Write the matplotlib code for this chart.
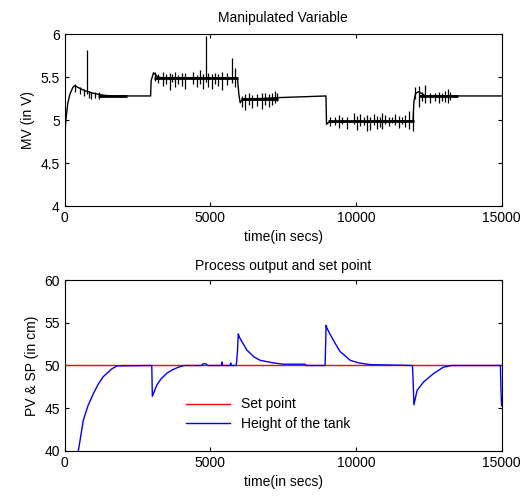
import numpy as np
import matplotlib
matplotlib.use('Agg')
import matplotlib.pyplot as plt
from matplotlib.ticker import FormatStrFormatter

plt.rcParams['font.family'] = ['Liberation Sans', 'DejaVu Sans']
plt.rcParams['font.size'] = 10

# manipulated variable: base trace (time, volts)
mv_t = [0, 10, 40, 110, 180, 280, 350, 450, 700, 1000, 1300, 1600, 2950, 2970, 3050, 3200, 3400,
        5930, 5980, 6025, 6100, 7300, 8970, 8990, 9050, 9200, 11960, 11990, 12050, 12150, 12400, 15000]
mv_v = [4.35, 4.85, 5.0, 5.2, 5.3, 5.38, 5.4, 5.38, 5.34, 5.31, 5.29, 5.28, 5.28, 5.46, 5.55, 5.5, 5.49,
        5.49, 5.3, 5.2, 5.24, 5.26, 5.28, 4.95, 4.97, 4.98, 4.99, 5.22, 5.31, 5.33, 5.28, 5.28]

# noisy stretches of the MV trace (start, end, level) - drawn thicker
band_t0 = [1150, 3050, 6050, 9050, 12150]
band_t1 = [2140, 5950, 7330, 11980, 13500]
band_v = [5.28, 5.49, 5.25, 4.985, 5.285]

# noise spikes in the MV trace: time, low end, high end
spk_t = [365, 537, 653, 780, 825, 914, 1052, 1168,
         3104, 3218, 3390, 3472, 3620, 3679, 3792, 3906, 4023, 4136, 4421, 4538, 4651, 4765,
         4845, 4937, 5053, 5167, 5280, 5397, 5569, 5740, 5854,
         6085, 6198, 6312, 6428, 6600, 6772, 6886, 7000, 7116, 7229, 7288,
         9120, 9292, 9406, 9521, 9694, 9921, 10038, 10151, 10265, 10382, 10495, 10609, 10726,
         10815, 10897, 11011, 11124, 11241, 11354, 11468, 11585, 11698, 11812, 11963,
         12042, 12156, 12272, 12386, 12558, 12730, 12843, 12960, 13073, 13152, 13245]
spk_lo = [5.33, 5.3, 5.28, 5.3, 5.26, 5.25, 5.26, 5.25,
          5.45, 5.43, 5.39, 5.42, 5.35, 5.44, 5.38, 5.42, 5.4, 5.36, 5.42, 5.38, 5.42, 5.36,
          5.44, 5.38, 5.36, 5.42, 5.39, 5.35, 5.41, 5.43, 5.38,
          5.15, 5.12, 5.17, 5.14, 5.16, 5.13, 5.17, 5.15, 5.18, 5.2, 5.22,
          4.93, 4.94, 4.91, 4.95, 4.89, 4.95, 4.88, 4.93, 4.94, 4.87, 4.88, 4.94, 4.89,
          4.92, 4.9, 4.95, 4.93, 4.96, 4.94, 4.91, 4.95, 4.92, 4.9, 4.87,
          5.25, 5.15, 5.22, 5.2, 5.2, 5.22, 5.2, 5.22, 5.21, 5.2, 5.23]
spk_hi = [5.42, 5.38, 5.36, 5.81, 5.34, 5.33, 5.33, 5.33,
          5.56, 5.53, 5.56, 5.54, 5.55, 5.53, 5.56, 5.52, 5.55, 5.55, 5.56, 5.52, 5.58, 5.53,
          5.98, 5.55, 5.53, 5.55, 5.54, 5.56, 5.55, 5.72, 5.6,
          5.28, 5.3, 5.31, 5.29, 5.3, 5.31, 5.32, 5.3, 5.32, 5.34, 5.31,
          5.03, 5.04, 5.06, 5.03, 5.03, 5.08, 5.05, 5.07, 5.04, 5.06, 5.03, 5.07, 5.05,
          5.03, 5.08, 5.06, 5.04, 5.03, 5.07, 5.05, 5.04, 5.06, 5.1, 5.09,
          5.38, 5.4, 5.33, 5.41, 5.32, 5.31, 5.33, 5.32, 5.34, 5.36, 5.33]

# process output (height of the tank) and set point
pv_t = [0, 150, 300, 469, 640, 800, 984, 1150, 1327, 1615, 1800, 2960, 2990, 3010, 3080, 3162,
        3300, 3506, 3700, 3905, 4100, 4700, 4750, 4850, 4900, 5380, 5400, 5420, 5680, 5700, 5720,
        5890, 5930, 5960, 6000, 6100, 6256, 6500, 6714, 7172, 7500, 8250, 8300, 8940, 8960, 8975,
        9000, 9120, 9300, 9464, 9808, 10100, 10500, 11940, 11960, 11990, 12100, 12330, 12670,
        13000, 13300, 14960, 14980, 15000]
pv_v = [20, 30.5, 36, 40, 43.6, 45.3, 46.7, 47.8, 48.7, 49.6, 49.95, 50, 50, 46.4, 47.0, 47.7,
        48.4, 49.1, 49.5, 49.8, 50, 50, 50.2, 50.2, 50, 50, 50.4, 50, 50, 50.3, 50,
        50, 51.5, 53.7, 53.3, 52.7, 51.8, 51.0, 50.6, 50.3, 50.15, 50.15, 50, 50, 52.5, 54.7,
        54.4, 53.6, 52.5, 51.6, 50.6, 50.3, 50.1, 50, 48.5, 45.4, 47.1, 48.1, 49.07,
        49.8, 50, 50, 47, 45.3]
sp_t = [0, 15000]
sp_v = [50, 50]


def matlab_axes(ax):
    ax.tick_params(direction='in', top=True, right=True, length=3, width=0.8, labelsize=10)
    for s in ax.spines.values():
        s.set_linewidth(0.8)
    ax.set_xlim(0, 15000)
    ax.set_xticks([0, 5000, 10000, 15000])


fig = plt.figure(figsize=(5.22, 4.97), dpi=100)
ax1 = fig.add_axes([0.1239, 0.5855, 0.837, 0.346])
ax2 = fig.add_axes([0.1239, 0.0926, 0.837, 0.344])

ax1.plot(mv_t, mv_v, color='black', lw=1.0)
ax1.hlines(band_v, band_t0, band_t1, color='black', lw=2.0)
ax1.vlines(spk_t, spk_lo, spk_hi, color='black', lw=0.9)
matlab_axes(ax1)
ax1.set_ylim(4, 6)
ax1.set_yticks([4, 4.5, 5, 5.5, 6])
ax1.yaxis.set_major_formatter(FormatStrFormatter('%g'))
ax1.set_title('Manipulated Variable', fontsize=10, pad=9)
ax1.set_xlabel('time(in secs)')
ax1.set_ylabel('MV (in V)')

ax2.plot(sp_t, sp_v, color='red', lw=1.0, label='Set point')
ax2.plot(pv_t, pv_v, color='blue', lw=1.0, label='Height of the tank')
matlab_axes(ax2)
ax2.set_ylim(40, 60)
ax2.set_yticks([40, 45, 50, 55, 60])
ax2.set_title('Process output and set point', fontsize=10, pad=7)
ax2.set_xlabel('time(in secs)')
ax2.set_ylabel('PV & SP (in cm)')
ax2.legend(loc='upper left', bbox_to_anchor=(0.255, 0.37), frameon=False,
           handlelength=3.2, fontsize=10, borderpad=0.2, labelspacing=0.4)

fig.savefig('out.png', dpi=100)
